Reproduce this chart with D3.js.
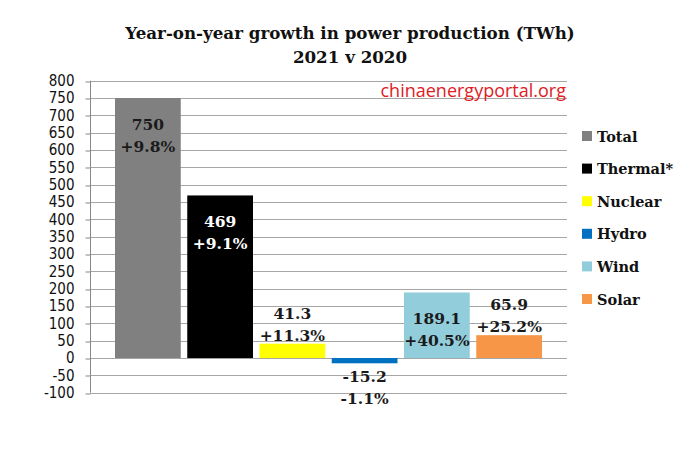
<!DOCTYPE html>
<html>
<head>
<meta charset="utf-8">
<script src="https://cdn.jsdelivr.net/npm/d3@7"></script>
<style>
  body { margin: 0; background: #fff; }
  svg { display: block; }
  .tick text { font-family: "DejaVu Sans Condensed", "Liberation Sans", sans-serif; font-size: 15px; fill: #111; }
  .serif { font-family: "DejaVu Serif", serif; font-weight: bold; }
</style>
</head>
<body>
<svg width="689" height="467"></svg>
<script>
// chart data
const sources = ["Total", "Thermal*", "Nuclear", "Hydro", "Wind", "Solar"];
const growth = [750, 469, 41.3, -15.2, 189.1, 65.9];
const growthPct = ["+9.8%", "+9.1%", "+11.3%", "-1.1%", "+40.5%", "+25.2%"];
const colors = ["#808080", "#000000", "#ffff00", "#0070c0", "#92cddc", "#f79646"];
const yTicks = d3.range(-100, 801, 50);

let svg = d3.select("svg");

let y = d3.scaleLinear().domain([-100, 800]).range([392.7, 80.7]);
let x = d3.scaleBand().domain(sources).range([115, 542]).paddingInner(0.09);

// title
let title = svg.append("text")
    .attr("class", "serif")
    .attr("text-anchor", "middle")
    .attr("font-size", 16.7)
    .attr("fill", "#111");
title.append("tspan").attr("x", 350).attr("y", 39).text("Year-on-year growth in power production (TWh)");
title.append("tspan").attr("x", 350).attr("y", 63).text("2021 v 2020");

//gridlines
svg.append("g")
    .selectAll("line")
    .data(yTicks)
    .join("line")
    .attr("x1", 90)
    .attr("x2", 567)
    .attr("y1", d => Math.round(y(d)) + 0.5)
    .attr("y2", d => Math.round(y(d)) + 0.5)
    .attr("stroke", "#a6a6a6");

//y axis
let yAxis = svg.append("g")
    .attr("transform", "translate(90.5,0)")
    .call(d3.axisLeft(y).tickValues(yTicks).tickSize(5).tickPadding(11).tickFormat(d => String(d)));
yAxis.selectAll("line, path").attr("stroke", "#888");
yAxis.select(".domain").attr("d", "M0," + y(-100) + "V" + y(800));
yAxis.selectAll(".tick line").attr("transform", d => "translate(0," + (Math.round(y(d)) + 0.5 - y(d)) + ")");

// watermark
svg.append("text")
    .attr("x", 566)
    .attr("y", 97)
    .attr("text-anchor", "end")
    .attr("font-family", "Open Sans, Liberation Sans, sans-serif")
    .attr("font-size", 18)
    .attr("fill", "#e0201f")
    .text("chinaenergyportal.org");

// bars
let data = sources.map((s, i) => ({ name: s, value: growth[i], pct: growthPct[i], color: colors[i] }));

svg.append("g")
    .selectAll("rect")
    .data(data)
    .join("rect")
    .attr("x", d => x(d.name))
    .attr("width", x.bandwidth())
    .attr("y", d => y(Math.max(0, d.value)))
    .attr("height", d => Math.abs(y(d.value) - y(0)))
    .attr("fill", d => d.color);

//labels: inside end for tall bars, outside for short ones
function labelY(d) {
    let h = Math.abs(y(d.value) - y(0));
    if (d.value < 0) return y(d.value) + 13;
    if (h > 60) return y(d.value) + 26;
    return y(d.value) - 31;
}

let labels = svg.append("g")
    .selectAll("text")
    .data(data)
    .join("text")
    .attr("class", "serif")
    .attr("text-anchor", "middle")
    .attr("dominant-baseline", "central")
    .attr("font-size", 15.5)
    .attr("fill", d => d.color === "#000000" ? "#fff" : "#1a1a1a");
labels.append("tspan")
    .attr("x", d => x(d.name) + x.bandwidth() / 2)
    .attr("y", labelY)
    .text(d => d.value);
labels.append("tspan")
    .attr("x", d => x(d.name) + x.bandwidth() / 2)
    .attr("y", d => labelY(d) + 22)
    .text(d => d.pct);

// legend
let legend = svg.append("g")
    .selectAll("g")
    .data(data)
    .join("g")
    .attr("transform", (d, i) => "translate(582," + (136 + i * 32.6) + ")");
legend.append("rect")
    .attr("x", 0)
    .attr("y", -5)
    .attr("width", 10)
    .attr("height", 10)
    .attr("fill", d => d.color);
legend.append("text")
    .attr("class", "serif")
    .attr("x", 15)
    .attr("dominant-baseline", "central")
    .attr("font-size", 14.5)
    .attr("fill", "#111")
    .text(d => d.name);
</script>
</body>
</html>
